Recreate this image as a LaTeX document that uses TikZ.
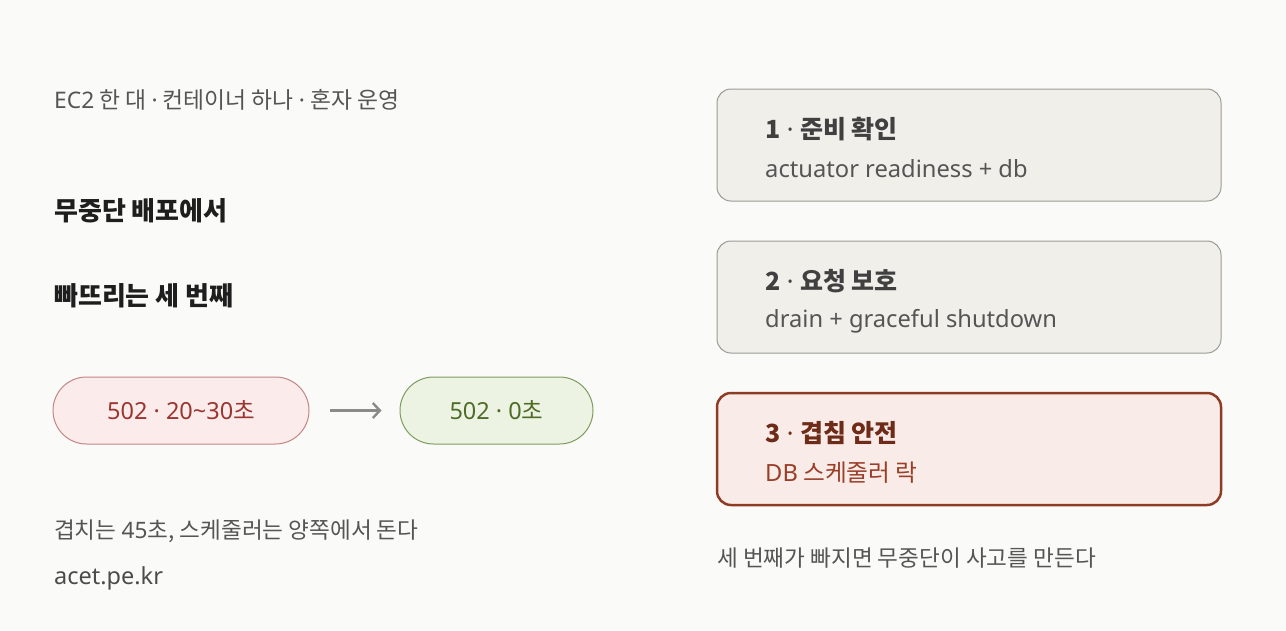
\documentclass[tikz,border=0pt]{standalone}
\usepackage{fontspec}
\setmainfont{Noto Sans CJK KR}
\newfontfamily\latfont{Noto Sans}
\newcommand\lat[1]{{\latfont #1}}
\usetikzlibrary{positioning,arrows.meta}
\definecolor{paper}{HTML}{FAFAF8}
\definecolor{ink}{HTML}{1E1E1E}
\definecolor{greytext}{HTML}{555555}
\definecolor{cardfill}{HTML}{F1EFEA}
\definecolor{cardline}{HTML}{9C9A94}
\definecolor{redfill}{HTML}{FBECEB}
\definecolor{redline}{HTML}{C48585}
\definecolor{redtext}{HTML}{9B3530}
\definecolor{greenfill}{HTML}{EDF3E2}
\definecolor{greenline}{HTML}{7E9C60}
\definecolor{greentext}{HTML}{4E6C28}
\definecolor{keyfill}{HTML}{F9ECE8}
\definecolor{keyline}{HTML}{8E3C24}
\definecolor{keytitle}{HTML}{6E2C18}
\definecolor{keytext}{HTML}{9A3E28}
\tikzset{
  note/.style={anchor=west, inner sep=0pt, text=greytext, font=\fontsize{22.6}{27}\selectfont},
  heading/.style={anchor=west, inner sep=0pt, text=ink, font=\fontsize{26}{30}\selectfont\bfseries},
  pill/.style={draw, line width=1pt, rounded corners=33.5pt, minimum height=67pt, inner sep=0pt, font=\fontsize{23.5}{27}\selectfont},
  card/.style={draw=cardline, fill=cardfill, line width=1pt, rounded corners=14pt, minimum width=504pt, minimum height=112pt},
  cardtitle/.style={anchor=west, inner sep=0pt, text=ink!85, font=\fontsize{25}{29}\selectfont\bfseries},
  cardsub/.style={anchor=west, inner sep=0pt, text=greytext, font=\fontsize{23.7}{27}\selectfont}
}
\begin{document}
\begin{tikzpicture}[x=1pt,y=-1pt]
\fill[paper] (0,0) rectangle (1286,630);
\useasboundingbox (0,0) rectangle (1286,630);
\node[note, font=\fontsize{22.8}{27}\selectfont] (context) at (54,100) {\lat{EC2} 한 대 \lat{·} 컨테이너 하나 \lat{·} 혼자 운영};
\node[heading] (headone) at (54,211) {무중단 배포에서};
\node[heading] (headtwo) at (54,296) {빠뜨리는 세 번째};
\node[pill, fill=redfill, draw=redline, text=redtext, minimum width=256pt] (before) at (181,410.5) {\lat{502 · 20\textasciitilde 30}초};
\node[pill, fill=greenfill, draw=greenline, text=greentext, minimum width=193pt] (after) at (496.5,410.5) {\lat{502 · 0}초};
\draw[-{Straight Barb[length=7pt,width=15pt]}, line width=2.4pt, draw=black!46, shorten <=20pt, shorten >=18pt] (before.east) -- (after.west);
\node[note] (overlap) at (54,531) {겹치는 \lat{45}초, 스케줄러는 양쪽에서 돈다};
\node[note, text=ink!80, font=\fontsize{23.5}{27}\selectfont] (site) at (54,578) {\lat{acet.pe.kr}};
\node[card] (ready) at (969,145) {};
\node[cardtitle] (readyt) at (765,129) {1\lat{ · }준비 확인};
\node[cardsub] (readys) at (765,169) {\lat{actuator readiness + db}};
\node[card] (drain) at (969,297) {};
\node[cardtitle] (draint) at (765,281) {2\lat{ · }요청 보호};
\node[cardsub] (drains) at (765,321) {\lat{drain + graceful shutdown}};
\node[card, draw=keyline, fill=keyfill, line width=2.5pt] (lock) at (969,449) {};
\node[cardtitle, text=keytitle] (lockt) at (765,433) {3\lat{ · }겹침 안전};
\node[cardsub, text=keytext] (locks) at (765,473) {\lat{DB} 스케줄러 락};
\node[note] (moral) at (717,558) {세 번째가 빠지면 무중단이 사고를 만든다};
\end{tikzpicture}
\end{document}
